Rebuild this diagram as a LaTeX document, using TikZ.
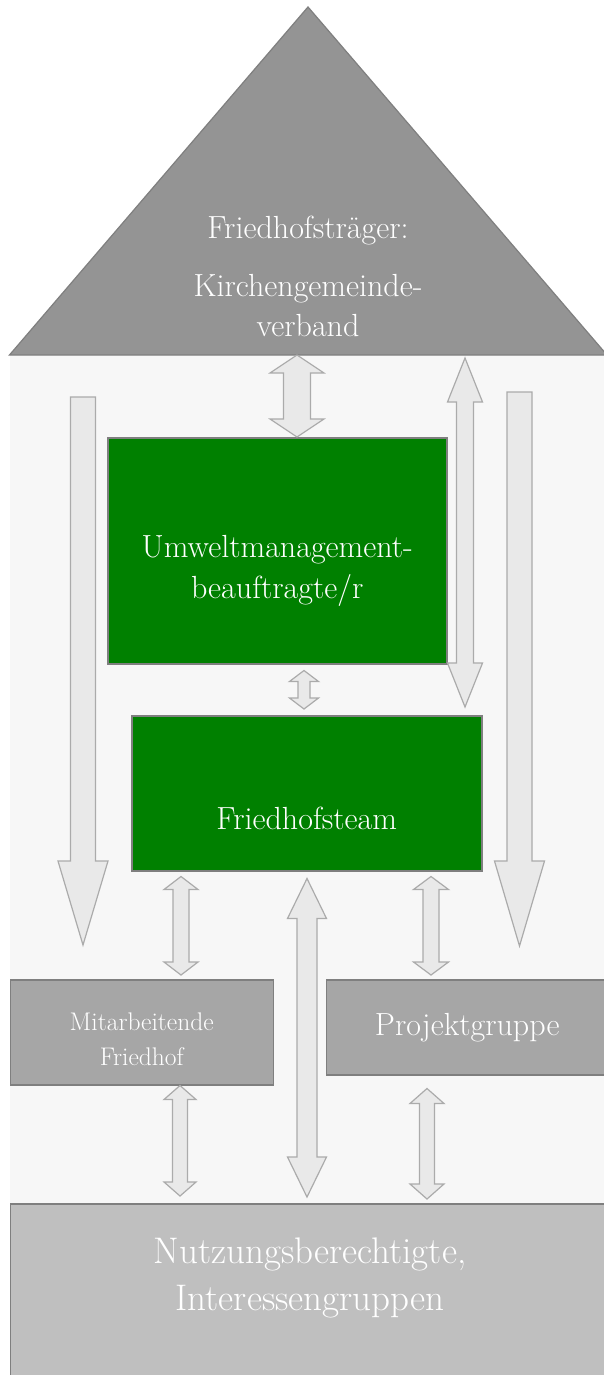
\documentclass[tikz,border=0pt]{standalone}
\usepackage{tikz}
\usetikzlibrary{calc}
\definecolor{roofgray}{HTML}{949494}
\definecolor{framegray}{HTML}{7F7F7F}
\definecolor{wallgray}{HTML}{F7F7F7}
\definecolor{teamgreen}{HTML}{008000}
\definecolor{groupgray}{HTML}{A6A6A6}
\definecolor{basegray}{HTML}{BFBFBF}
\definecolor{arrowfill}{HTML}{E9E9E9}
\definecolor{arrowline}{HTML}{ABABAB}
\tikzstyle{greenbox} = [
    draw=framegray,
    fill=teamgreen,
    line width=1.5pt,
    rectangle,
    inner sep=0pt,
    anchor=north west
    ]
\tikzstyle{graybox} = [greenbox, fill=groupgray]
\tikzstyle{basebox} = [greenbox, fill=basegray]
\tikzstyle{boxtext} = [
    text=white,
    align=center,
    inner sep=0pt,
    font=\fontsize{32}{41}\selectfont
    ]
\tikzstyle{blockarrow} = [
    draw=arrowline,
    fill=arrowfill,
    line width=1.2pt,
    line join=miter
    ]
\newcommand{\dblarrow}[5]{% top tip, bottom tip, shaft half width, head half width, head length
\draw[blockarrow] (#1) -- ++(#4,#5) -- ++(#3-#4,0) -- ($(#2)+(#3,-#5)$) -- ++(#4-#3,0)
    -- (#2) -- ++(-#4,-#5) -- ++(#4-#3,0) -- ($(#1)+(-#3,#5)$) -- ++(#3-#4,0) -- cycle;
}
\newcommand{\sglarrow}[5]{% top end, tip, shaft half width, head half width, head length
\draw[blockarrow] ($(#1)+(-#3,0)$) -- ($(#1)+(#3,0)$) -- ($(#2)+(#3,-#5)$) -- ++(#4-#3,0)
    -- (#2) -- ++(-#4,-#5) -- ++(#4-#3,0) -- cycle;
}

\begin{document}
\begin{tikzpicture}[x=1pt, y=-1pt]
\useasboundingbox (0,0) rectangle (604,1375);

% house
\coordinate (apex) at (308,7);
\coordinate (eaveL) at (9.5,355);
\coordinate (eaveR) at (607,355);
\fill[wallgray] (eaveL) rectangle (607,1380);
\draw[draw=framegray, fill=roofgray, line width=1.2pt] (eaveL) -- (apex) -- (eaveR) -- cycle;
\node[boxtext, font=\fontsize{32}{40}\selectfont] (roof) at (308,276) {Friedhofsträger:\\[18pt] Kirchengemeinde-\\ verband};

% boxes
\node[greenbox, minimum width=339pt, minimum height=226pt] (umwelt) at (107,437) {};
\node[boxtext] (umwelttext) at ($(umwelt.center)+(0,20)$) {Umweltmanagement-\\beauftragte/r};
\node[greenbox, minimum width=350pt, minimum height=155pt] (team) at (131,715) {};
\node[boxtext] (teamtext) at ($(team.center)+(0,25)$) {Friedhofsteam};
\node[graybox, minimum width=263pt, minimum height=105pt] (staff) at (9.5,979) {};
\node[boxtext, font=\fontsize{25.5}{35}\selectfont] (stafftext) at ($(staff.center)+(0,7)$) {Mitarbeitende\\Friedhof};
\node[graybox, minimum width=282pt, minimum height=95pt] (project) at (325.5,979) {};
\node[boxtext] (projecttext) at (project.center) {Projektgruppe};
\node[basebox, minimum width=598pt, minimum height=180pt] (users) at (9.5,1203) {};
\node[boxtext, font=\fontsize{37}{47}\selectfont] (userstext) at (310,1278) {Nutzungsberechtigte,\\Interessengruppen};

% arrow ends
\coordinate (r2u) at (eaveL -| 297,0);
\coordinate (u2r) at (umwelt.north -| 297,0);
\coordinate (sideT) at (465,358);
\path (team.north -| 465,0) ++(0,-8) coordinate (sideB);
\coordinate (leftT) at (83,397);
\coordinate (leftB) at (83,945);
\coordinate (rightT) at (519.5,392);
\coordinate (rightB) at (519.5,946);
\path (umwelt.south -| 304,0) ++(0,6) coordinate (u2t);
\path (team.north -| 304,0) ++(0,-6) coordinate (t2u);
\path (team.south -| 181,0) ++(0,5) coordinate (t2s);
\path (staff.north -| 181,0) ++(0,-4) coordinate (s2t);
\path (team.south -| 307,0) ++(0,7) coordinate (t2n);
\path (users.north -| 307,0) ++(0,-6) coordinate (n2t);
\path (team.south -| 431,0) ++(0,5) coordinate (t2p);
\path (project.north -| 431,0) ++(0,-4) coordinate (p2t);
\path (staff.south -| 180,0) coordinate (s2n);
\path (users.north -| 180,0) ++(0,-7) coordinate (n2s);
\path (project.south -| 427,0) ++(0,13) coordinate (p2n);
\path (users.north -| 427,0) ++(0,-4) coordinate (n2p);

% arrows
\dblarrow{r2u}{u2r}{13.5}{27}{18}
\dblarrow{sideT}{sideB}{8.5}{17.5}{44}
\sglarrow{leftT}{leftB}{12.5}{25}{84}
\sglarrow{rightT}{rightB}{12.5}{25}{85}
\dblarrow{u2t}{t2u}{6}{14.5}{11}
\dblarrow{t2s}{s2t}{8}{17}{13}
\dblarrow{t2n}{n2t}{10}{19.5}{40}
\dblarrow{t2p}{p2t}{8}{17.5}{13}
\dblarrow{s2n}{n2s}{7.5}{16}{14}
\dblarrow{p2n}{n2p}{7.5}{17}{15}
\end{tikzpicture}
\end{document}
